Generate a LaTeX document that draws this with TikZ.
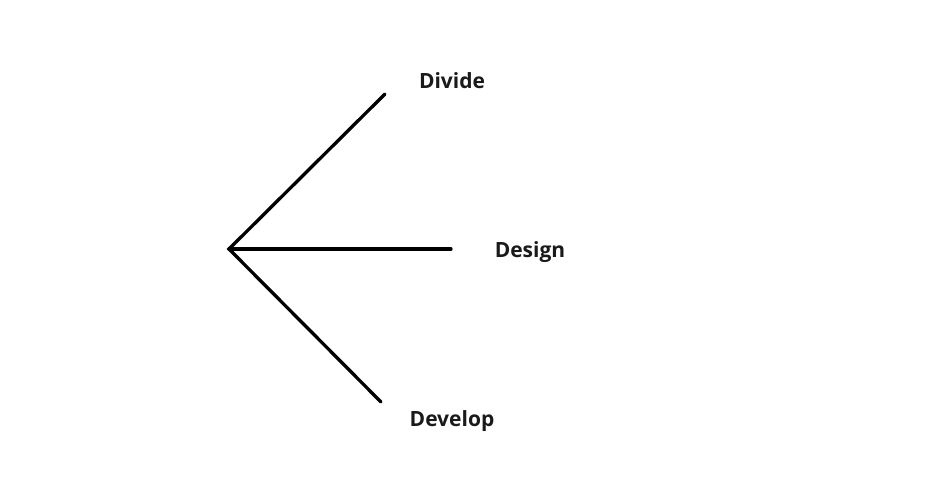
\documentclass[tikz,border=0pt]{standalone}
\usepackage{fontspec}
\setmainfont{Open Sans}
\definecolor{txt}{HTML}{1A1A1A}
\begin{document}
\begin{tikzpicture}[x=1pt,y=-1pt,
  branch/.style={line width=3.3pt,line cap=round,line join=miter,black},
  lbl/.style={font=\bfseries\fontsize{21}{24}\selectfont,text=txt,inner sep=0pt}]
\useasboundingbox (0,0) rectangle (932,500);
\coordinate (root) at (229,249);
\coordinate (e1) at (385,94);
\coordinate (e2) at (451,249);
\coordinate (e3) at (381,402);
\draw[branch] (e1) -- (root) -- (e3);
\draw[branch] (root) -- (e2);
\node[lbl] (divide) at (452,81) {Divide};
\node[lbl] (design) at (530,252) {Design};
\node[lbl] (develop) at (452,421) {Develop};
\end{tikzpicture}
\end{document}
